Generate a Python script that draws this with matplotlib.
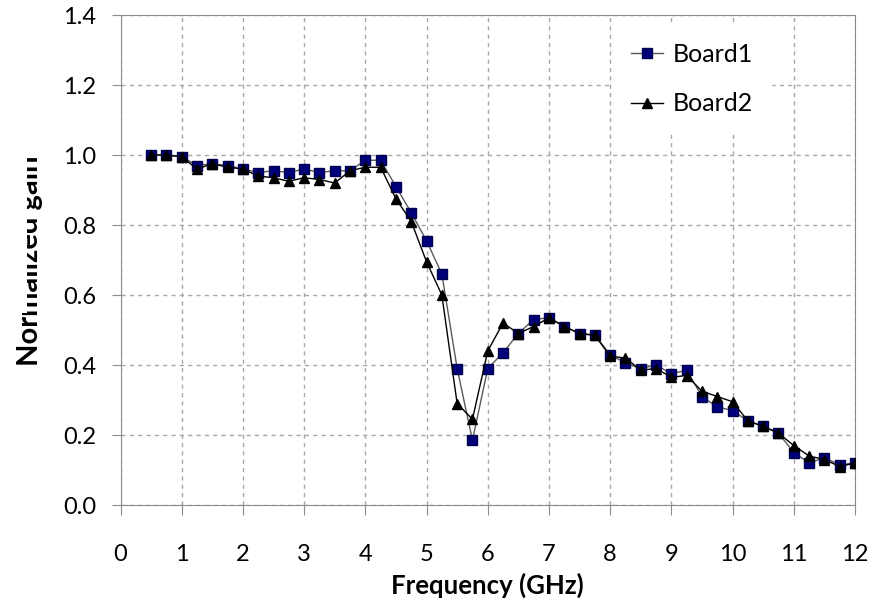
import numpy as np
import matplotlib
matplotlib.use("Agg")
import matplotlib.pyplot as plt
from matplotlib.patches import Rectangle

# frequency points (GHz)
freq = np.arange(0.5, 12.01, 0.25)

board1 = [1.00, 1.00, 0.995, 0.97, 0.975, 0.97, 0.96, 0.95, 0.955, 0.95,
          0.96, 0.95, 0.955, 0.955, 0.985, 0.985, 0.91, 0.835, 0.755, 0.66,
          0.39, 0.185, 0.39, 0.435, 0.49, 0.53, 0.535, 0.51, 0.49, 0.485,
          0.43, 0.405, 0.39, 0.40, 0.375, 0.385, 0.31, 0.28, 0.27, 0.24,
          0.225, 0.205, 0.15, 0.12, 0.135, 0.115, 0.12]

board2 = [1.00, 1.00, 0.995, 0.96, 0.975, 0.965, 0.96, 0.94, 0.935, 0.925,
          0.935, 0.93, 0.92, 0.955, 0.965, 0.965, 0.875, 0.81, 0.695, 0.60,
          0.29, 0.245, 0.44, 0.52, 0.49, 0.51, 0.535, 0.51, 0.49, 0.485,
          0.425, 0.42, 0.385, 0.39, 0.365, 0.37, 0.325, 0.31, 0.295, 0.24,
          0.225, 0.205, 0.17, 0.14, 0.13, 0.11, 0.12]

xticks = list(range(0, 13))
yticks = [0.0, 0.2, 0.4, 0.6, 0.8, 1.0, 1.2, 1.4]

plt.rcParams['font.family'] = ['Lato', 'DejaVu Sans']

W, H = 871, 603
fig = plt.figure(figsize=(W / 100, H / 100), dpi=100)
# plot area in pixels: left 120.5, right 855, top 15, bottom 505
ax = fig.add_axes([120.5 / W, 1 - 505 / H, (855 - 120.5) / W, (505 - 15) / H])

ax.plot(freq, board1, color='#5a5a5a', lw=1.0, marker='s', ms=7,
        mfc='#00007a', mec='#000050', label='Board1', zorder=3)
ax.plot(freq, board2, color='black', lw=1.0, marker='^', ms=7.5,
        mfc='black', mec='black', label='Board2', zorder=4)

ax.set_xlim(0, 12)
ax.set_ylim(0, 1.4)
ax.set_xticks(xticks)
ax.set_yticks(yticks)
ax.set_yticklabels(['%.1f' % v for v in yticks])

ax.grid(True, color='#a8a8a8', ls=(0, (3, 3)), lw=1.0)
ax.set_axisbelow(True)
for s in ax.spines.values():
    s.set_color('#8c8c8c')
ax.tick_params(axis='x', direction='out', length=7, color='#8c8c8c',
               labelsize=17, pad=21)
ax.tick_params(axis='y', direction='out', length=6.5, color='#8c8c8c',
               labelsize=17, pad=11)

ax.set_xlabel('Frequency (GHz)', fontsize=18.5, fontweight='bold')
ax.xaxis.set_label_coords(0.5, -0.139)
ax.set_ylabel('Normalized gain', fontsize=21, fontweight='bold', va='center')
ax.yaxis.set_label_coords(30 / W, 1 - 261 / H, transform=fig.transFigure)

leg = ax.legend(loc='center', bbox_to_anchor=(0.778, 0.869), fontsize=18,
                frameon=True, fancybox=False, handlelength=1.3,
                handletextpad=0.4, labelspacing=1.05, borderpad=0.7)
leg.get_frame().set_edgecolor('white')
leg.get_frame().set_facecolor('white')
leg.get_frame().set_alpha(1.0)

# the tick label boxes hide the top of the y label, as in the original
fig.patches.append(Rectangle((0, 1 - 313 / H), 27 / W, 178 / H,
                             transform=fig.transFigure, facecolor='white',
                             edgecolor='none', zorder=5))

fig.savefig('out.png', dpi=100)
